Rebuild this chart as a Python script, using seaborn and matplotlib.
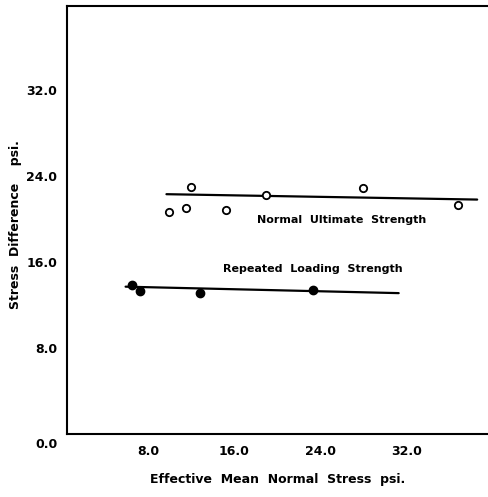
import matplotlib
matplotlib.use("Agg")
import matplotlib.pyplot as plt
import matplotlib.transforms as mtransforms
import seaborn as sns
import pandas as pd

# Data
normal_x = [9.9, 11.5, 12.0, 15.2, 19.0, 28.0, 36.8]
normal_y = [20.6, 21.0, 23.0, 20.8, 22.2, 22.9, 21.3]
normal_fit_x = [9.7, 38.6]
normal_fit_y = [22.3, 21.8]

repeated_x = [6.5, 7.2, 12.8, 23.3]
repeated_y = [13.9, 13.3, 13.1, 13.4]
repeated_fit_x = [5.9, 31.3]
repeated_fit_y = [13.7, 13.1]

x_ticks = [8, 16, 24, 32]
x_tick_labels = ["8.0", "16.0", "24.0", "32.0"]
y_ticks = [0, 8, 16, 24, 32]
y_tick_labels = ["0.0", "8.0", "16.0", "24.0", "32.0"]

sns.set_theme(style="white")
plt.rcParams["font.family"] = ["DejaVu Sans"]
plt.rcParams["font.weight"] = "bold"
plt.rcParams["text.color"] = "black"
plt.rcParams["axes.labelcolor"] = "black"

fig = plt.figure(figsize=(4.89, 4.97), dpi=100)
ax = fig.add_axes([67 / 489, 63 / 497, 1 - 67 / 489, (434 - 6) / 497])

df_n = pd.DataFrame({"x": normal_x, "y": normal_y})
df_r = pd.DataFrame({"x": repeated_x, "y": repeated_y})
df_nf = pd.DataFrame({"x": normal_fit_x, "y": normal_fit_y})
df_rf = pd.DataFrame({"x": repeated_fit_x, "y": repeated_fit_y})

sns.lineplot(data=df_nf, x="x", y="y", ax=ax, color="black", lw=1.6)
sns.lineplot(data=df_rf, x="x", y="y", ax=ax, color="black", lw=1.6)
sns.scatterplot(data=df_n, x="x", y="y", ax=ax, marker="o", s=28,
                facecolor="white", edgecolor="black", linewidth=1.3, zorder=3)
sns.scatterplot(data=df_r, x="x", y="y", ax=ax, marker="o", s=36,
                color="black", edgecolor="black", linewidth=1, zorder=3)

ax.set_xlim(0.45, 39.7)
ax.set_ylim(0, 39.8)

ax.set_xticks(x_ticks)
ax.set_xticklabels(x_tick_labels, fontsize=9, fontweight="bold")
ax.set_yticks(y_ticks)
ax.set_yticklabels(y_tick_labels, fontsize=9, fontweight="bold")

ax.tick_params(axis="x", direction="in", length=6, width=1.2, pad=8, colors="black")
ax.tick_params(axis="y", direction="inout", length=8, width=1.2, pad=3, colors="black")
ax.yaxis.get_major_ticks()[0].tick1line.set_visible(False)
lbl0 = ax.get_yticklabels()[0]
lbl0.set_transform(lbl0.get_transform() + mtransforms.ScaledTranslation(0, -9 / 100, fig.dpi_scale_trans))

for s in ["left", "bottom", "top"]:
    ax.spines[s].set_visible(True)
    ax.spines[s].set_color("black")
    ax.spines[s].set_linewidth(1.5)
ax.spines["right"].set_visible(False)

ax.set_xlabel("Effective  Mean  Normal  Stress  psi.", fontsize=9, fontweight="bold", color="black")
ax.set_ylabel("Stress  Difference    psi.", fontsize=9, fontweight="bold", color="black")
ax.xaxis.set_label_coords(0.5, (434 - 480) / 428)
ax.xaxis.label.set_va("center")
ax.yaxis.set_label_coords((15 - 67) / 422, 0.49)
ax.yaxis.label.set_va("center")

ax.text(26.0, 19.9, "Normal  Ultimate  Strength", fontsize=8, fontweight="bold",
        ha="center", va="center", color="black")
ax.text(23.3, 15.3, "Repeated  Loading  Strength", fontsize=8, fontweight="bold",
        ha="center", va="center", color="black")

fig.savefig("out.png", dpi=100, facecolor="white")
